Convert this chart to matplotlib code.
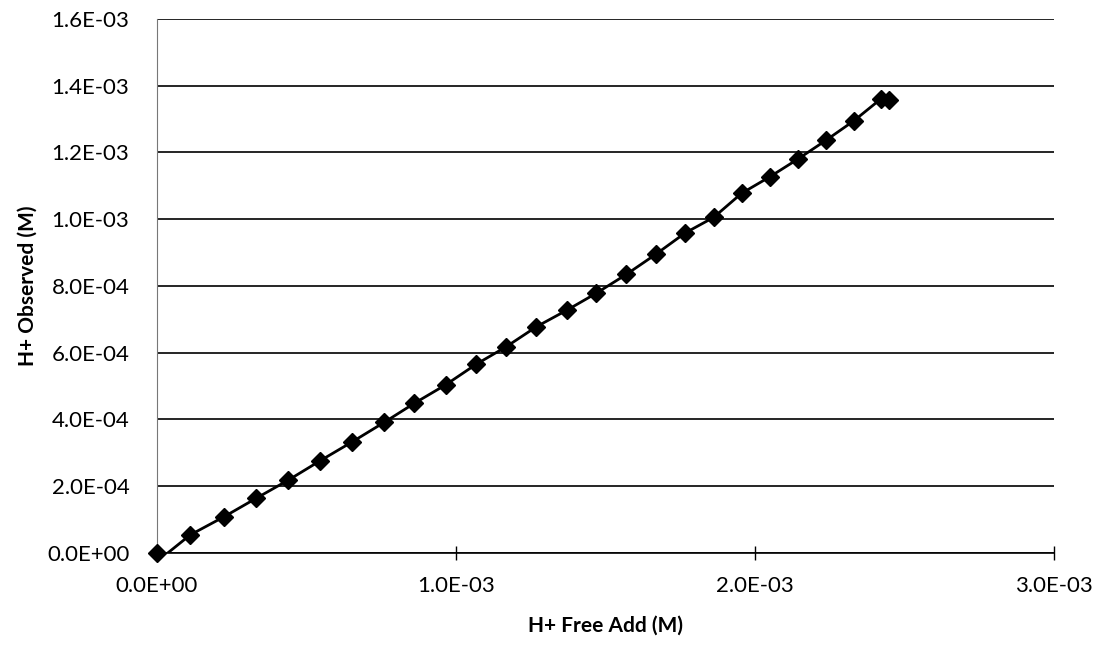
import matplotlib.pyplot as plt
from matplotlib.ticker import FuncFormatter

plt.rcParams['font.family'] = ['Lato', 'DejaVu Sans']

# H+ free added (M) and H+ observed (M)
h_free_add = [0.0, 0.1105e-3, 0.2243e-3, 0.3314e-3, 0.4396e-3, 0.5457e-3, 0.6518e-3,
              0.760e-3, 0.8604e-3, 0.9659e-3, 1.067e-3, 1.168e-3, 1.269e-3, 1.3716e-3,
              1.4687e-3, 1.570e-3, 1.668e-3, 1.766e-3, 1.862e-3, 1.955e-3, 2.050e-3,
              2.1436e-3, 2.2387e-3, 2.331e-3, 2.4205e-3, 2.448e-3]
h_observed = [0.0, 0.0531e-3, 0.1079e-3, 0.1631e-3, 0.2179e-3, 0.2758e-3, 0.3318e-3,
              0.3909e-3, 0.4478e-3, 0.5036e-3, 0.5647e-3, 0.6175e-3, 0.6775e-3, 0.7275e-3,
              0.7776e-3, 0.8345e-3, 0.8945e-3, 0.9583e-3, 1.0054e-3, 1.0773e-3, 1.1271e-3,
              1.1801e-3, 1.2371e-3, 1.295e-3, 1.360e-3, 1.357e-3]

# model line: starts on the x axis a little right of the origin
line_x = [0.037e-3] + h_free_add[1:]
line_y = [0.0] + h_observed[1:]

fig = plt.figure(figsize=(11.02, 6.46), dpi=100)
ax = fig.add_axes([0.1425, 0.1444, 0.9564 - 0.1425, 0.9706 - 0.1444])

ax.plot(line_x, line_y, color='black', lw=2.0, zorder=3)
ax.plot(h_free_add, h_observed, ls='none', marker='D', ms=9, color='black',
        clip_on=False, zorder=4)

ax.set_xlim(0, 3.0e-3)
ax.set_ylim(0, 1.6e-3)
ax.set_xticks([0, 1e-3, 2e-3, 3e-3])
ax.set_yticks([i * 0.2e-3 for i in range(9)])

fmt = FuncFormatter(lambda v, p: f'{v:.1E}')
ax.xaxis.set_major_formatter(fmt)
ax.yaxis.set_major_formatter(fmt)

ax.yaxis.grid(True, color='black', lw=1.2)
ax.set_axisbelow(True)

for s in ['top', 'right']:
    ax.spines[s].set_visible(False)
ax.spines['left'].set_color('#777777')
ax.spines['left'].set_linewidth(0.8)
ax.spines['bottom'].set_color('black')
ax.spines['bottom'].set_linewidth(1.2)

ax.tick_params(axis='x', direction='inout', length=10, width=1.0, labelsize=16, pad=12)
ax.tick_params(axis='y', length=0, labelsize=16, pad=20)

ax.set_xlabel('H+ Free Add (M)', fontsize=15, fontweight='bold', labelpad=14)
ax.set_ylabel('H+ Observed (M)', fontsize=15, fontweight='bold', labelpad=7)

fig.savefig('out.png', dpi=100)
